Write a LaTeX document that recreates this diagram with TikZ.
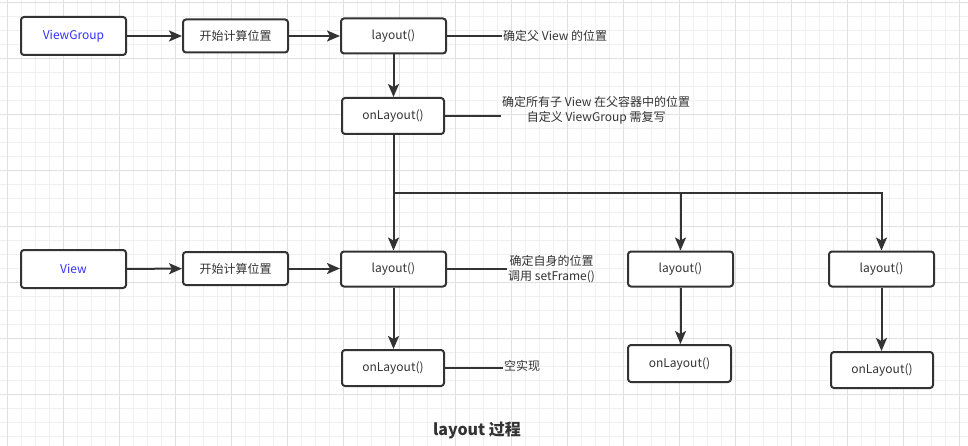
\documentclass[tikz,border=0pt]{standalone}
\usepackage{fontspec}
\setmainfont{Noto Sans CJK SC}
\usetikzlibrary{arrows.meta}
\definecolor{ink}{HTML}{333333}
\definecolor{vblue}{HTML}{3333FF}
\definecolor{gridminor}{HTML}{F0F0F0}
\definecolor{gridmajor}{HTML}{E0E0E0}
\begin{document}
\begin{tikzpicture}[x=1pt,y=-1pt,
  box/.style={draw=ink, line width=2pt, rounded corners=3pt, text=ink,
    font=\fontsize{12}{14}\selectfont, inner sep=0pt, fill=white},
  arr/.style={draw=ink, line width=2pt, -{Stealth[length=13pt,width=11pt,inset=3pt]}},
  ln/.style={draw=ink, line width=2pt},
  lbl/.style={text=ink, font=\fontsize{12}{15.5}\selectfont, inner sep=1pt, align=center},
  gmin/.style={draw=gridminor, line width=0.8pt},
  gmaj/.style={draw=gridmajor, line width=0.8pt}]
\useasboundingbox (0,0) rectangle (968,446);
\fill[white] (0,0) rectangle (968,446);
% grid
\foreach \x in {7,21,...,965} \draw[gmin] (\x,0) -- (\x,446);
\foreach \y in {2,16,...,444} \draw[gmin] (0,\y) -- (968,\y);
\foreach \x in {7,63,...,959} \draw[gmaj] (\x,0) -- (\x,446);
\foreach \y in {2,58,...,394} \draw[gmaj] (0,\y) -- (968,\y);

% row 1
\node[box, minimum width=105pt, minimum height=38pt, text=vblue] (vg) at (73.5,36) {ViewGroup};
\node[box, minimum width=105pt, minimum height=33pt] (s1) at (235.5,36) {开始计算位置};
\node[box, minimum width=105pt, minimum height=35pt] (l1) at (393.5,36) {layout()};
\node[box, minimum width=102pt, minimum height=36pt] (ol1) at (393,116) {onLayout()};

% row 2
\node[box, minimum width=105pt, minimum height=38pt, text=vblue] (v) at (73.5,269) {View};
\node[box, minimum width=105pt, minimum height=33pt] (s2) at (235.5,268.5) {开始计算位置};
\node[box, minimum width=105pt, minimum height=35pt] (l2) at (393.5,269) {layout()};
\node[box, minimum width=102pt, minimum height=36pt] (ol2) at (393,368) {onLayout()};
\node[box, minimum width=105pt, minimum height=35pt] (l3) at (680.5,269) {layout()};
\node[box, minimum width=103pt, minimum height=37pt] (ol3) at (679.5,363.5) {onLayout()};
\node[box, minimum width=105pt, minimum height=35pt] (l4) at (881.5,269) {layout()};
\node[box, minimum width=102pt, minimum height=36pt] (ol4) at (882,370) {onLayout()};

% labels
\node[lbl, anchor=west] (t1) at (502,36) {确定父 View 的位置};
\node[lbl, anchor=west] (t2) at (501,110.5) {确定所有子 View 在父容器中的位置\\自定义 ViewGroup 需复写};
\node[lbl, anchor=west] (t3) at (507,269) {确定自身的位置\\调用 setFrame()};
\node[lbl, anchor=west] (t4) at (503,366) {空实现};
\node[text=ink, font=\fontsize{16}{18}\selectfont\bfseries] (title) at (477,430) {layout 过程};

% connectors
\draw[arr] (vg) -- (s1);
\draw[arr] (s1) -- (l1);
\draw[arr] (l1.south) -- (l1.south |- ol1.north);
\draw[ln] (l1.east) -- (t1.west);
\draw[ln] (ol1.east) -- (ol1.east -| t2.west);

\draw[arr] (v) -- (s2);
\draw[arr] (s2.east) -- (s2.east -| l2.west);
\draw[arr] (ol1.south -| l2.north) -- (l2.north);
\coordinate (j) at (393.5,193);
\draw[arr] (j) -| (l3.north);
\draw[arr] (j) -| (l4.north);
\draw[arr] (l2.south) -- (l2.south |- ol2.north);
\draw[arr] (l3.south) -- (l3.south |- ol3.north);
\draw[arr] (l4.south) -- (l4.south |- ol4.north);
\draw[ln] (l2.east) -- (t3.west);
\draw[ln] (ol2.east) -- (ol2.east -| t4.west);
\end{tikzpicture}
\end{document}
